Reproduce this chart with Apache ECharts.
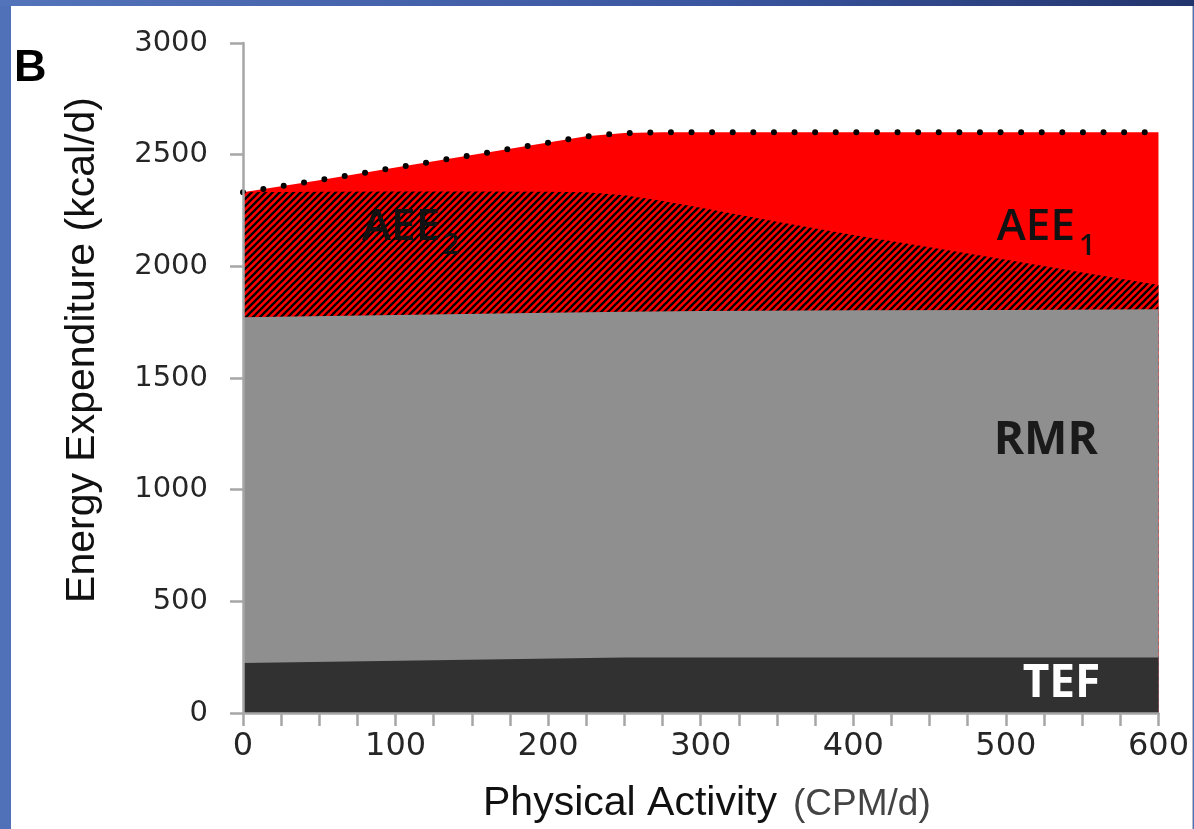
<!DOCTYPE html>
<html><head><meta charset="utf-8">
<script src="https://cdn.jsdelivr.net/npm/echarts@6/dist/echarts.min.js"></script>
<style>
html,body{margin:0;padding:0;width:1194px;height:829px;overflow:hidden;background:#5070b8;}
#frame{position:absolute;left:0;top:0;width:1194px;height:6px;background:linear-gradient(to right,#5373ba,#3a56a0 60%,#22346c);}
#panel{position:absolute;left:11px;top:6px;width:1181px;height:823px;background:#fff;border-right:1px solid #b8bcc8;}
#chart{position:absolute;left:0;top:0;width:1181px;height:823px;}
</style></head>
<body><div id="frame"></div><div id="panel"><div id="chart"></div></div>
<script>
// ---- data ----
const xTickLabels = [0, 100, 200, 300, 400, 500, 600];
const yTickLabels = [0, 500, 1000, 1500, 2000, 2500, 3000];

// top boundary of TEF band (kcal/d)
const tefX = [0, 250, 600];
const tefY = [224, 248, 248];
// top boundary of RMR band (cumulative)
const rmrX = [0, 100, 200, 250, 300, 400, 500, 600];
const rmrY = [1772, 1782, 1792, 1797, 1800, 1803, 1805, 1808];
// top boundary of AEE2 (hatched) band (cumulative)
const aee2X = [0, 50, 100, 150, 200, 225, 250, 275, 300, 350, 400, 450, 500, 550, 600];
const aee2Y = [2332, 2334, 2335, 2335, 2334, 2332, 2318, 2292, 2262, 2200, 2140, 2085, 2030, 1972, 1916];
// top boundary of AEE1 band (total, dotted line)
const aee1X = [0, 50, 100, 150, 200, 225, 250, 275, 600];
const aee1Y = [2332, 2386, 2442, 2498, 2554, 2582, 2597, 2600, 2600];

const bandNames = ['AEE1', 'AEE2', 'RMR', 'TEF'];

function pairs(xs, ys) { return xs.map((x, i) => [x, ys[i]]); }

// hatch pattern for AEE2
const T = 7;
const hatch = document.createElement('canvas');
hatch.width = T; hatch.height = T;
(function () {
  const c = hatch.getContext('2d');
  c.fillStyle = '#ff0000'; c.fillRect(0, 0, T, T);
  c.strokeStyle = '#000'; c.lineWidth = 2.3;
  c.beginPath();
  c.moveTo(-1, T + 1); c.lineTo(T + 1, -1);
  c.moveTo(-T - 1, T + 1); c.lineTo(T + 1, -T - 1);
  c.moveTo(-1, 2 * T + 1); c.lineTo(2 * T + 1, -1);
  c.stroke();
})();

const chart = echarts.init(document.getElementById('chart'), null, { renderer: 'canvas' });
const axisGrey = '#a6a6a6';
const tickFont = 'DejaVu Sans';

chart.setOption({
  animation: false,
  grid: { left: 232, right: 30, top: 37, bottom: 116, containLabel: false },
  xAxis: {
    type: 'value', min: 0, max: 600, interval: 25, z: 10,
    axisLine: { show: true, lineStyle: { color: axisGrey, width: 2.5 } },
    axisTick: { show: true, length: 13, lineStyle: { color: axisGrey, width: 2.5 } },
    splitLine: { show: false },
    axisLabel: {
      fontFamily: tickFont, fontSize: 32, color: '#262626', margin: 18,
      formatter: v => (xTickLabels.indexOf(v) >= 0 ? String(v) : '')
    }
  },
  yAxis: {
    type: 'value', min: 0, max: 3000, interval: 500, z: 10,
    axisLine: { show: true, lineStyle: { color: axisGrey, width: 2.5 } },
    axisTick: { show: true, length: 13, lineStyle: { color: axisGrey, width: 2.5 } },
    splitLine: { show: false },
    axisLabel: {
      fontFamily: tickFont, fontSize: 29, color: '#262626', margin: 35,
      formatter: v => (yTickLabels.indexOf(v) >= 0 ? String(v) : '')
    }
  },
  series: [
    {
      name: bandNames[0], type: 'line', data: pairs(aee1X, aee1Y), symbol: 'none', z: 2,
      lineStyle: { color: '#000', width: 6, type: [0, 20.6], cap: 'round' },
      areaStyle: { color: '#ff0000', opacity: 1 }
    },
    {
      name: bandNames[1], type: 'line', data: pairs(aee2X, aee2Y), symbol: 'none', z: 3,
      lineStyle: { opacity: 0, width: 0 },
      areaStyle: { color: { image: hatch, repeat: 'repeat' }, opacity: 1 }
    },
    {
      name: bandNames[2], type: 'line', data: pairs(rmrX, rmrY), symbol: 'none', z: 4,
      lineStyle: { opacity: 0, width: 0 },
      areaStyle: { color: '#8f8f8f', opacity: 1 }
    },
    {
      name: bandNames[3], type: 'line', data: pairs(tefX, tefY), symbol: 'none', z: 5,
      lineStyle: { opacity: 0, width: 0 },
      areaStyle: { color: '#313131', opacity: 1 }
    }
  ]
});

// ---- annotations anchored in data space ----
const annotations = [
  { text: 'AEE', at: [78, 2172], font: '600 44px "Open Sans"', color: '#111' },
  { text: '2', at: [131, 2091], font: '600 29px "Open Sans"', color: '#111' },
  { text: 'AEE', at: [494, 2172], font: '600 44px "Open Sans"', color: '#111' },
  { text: '1', at: [548, 2087], font: '600 29px "Open Sans"', color: '#111' },
  { text: 'RMR', at: [492, 1218], font: 'bold 46px "Open Sans"', color: '#1a1a1a' },
  { text: 'TEF', at: [511, 132], font: 'bold 46px "Open Sans"', color: '#ffffff' }
];
const g = annotations.map(a => {
  const p = chart.convertToPixel({ gridIndex: 0 }, a.at);
  return { type: 'text', x: p[0], y: p[1], z: 20,
    style: { text: a.text, font: a.font, fill: a.color, align: 'left', verticalAlign: 'middle' } };
});
g.push(
  { type: 'text', x: 3, y: 63, z: 20,
    style: { text: 'B', font: 'bold 45px "Liberation Sans"', fill: '#000', align: 'left', verticalAlign: 'middle' } },
  { type: 'text', x: 72, y: 344, rotation: Math.PI / 2, z: 20,
    style: { text: 'Energy Expenditure (kcal/d)', font: '41px "Liberation Sans"', fill: '#111', align: 'center', verticalAlign: 'middle' } },
  { type: 'text', x: 472, y: 798, z: 20,
    style: { text: 'Physical Activity', font: '41px "Liberation Sans"', fill: '#111', align: 'left', verticalAlign: 'middle' } },
  { type: 'text', x: 782, y: 799, z: 20,
    style: { text: '(CPM/d)', font: '37px "Liberation Sans"', fill: '#444', align: 'left', verticalAlign: 'middle' } }
);
chart.setOption({ graphic: g });
</script></body></html>
